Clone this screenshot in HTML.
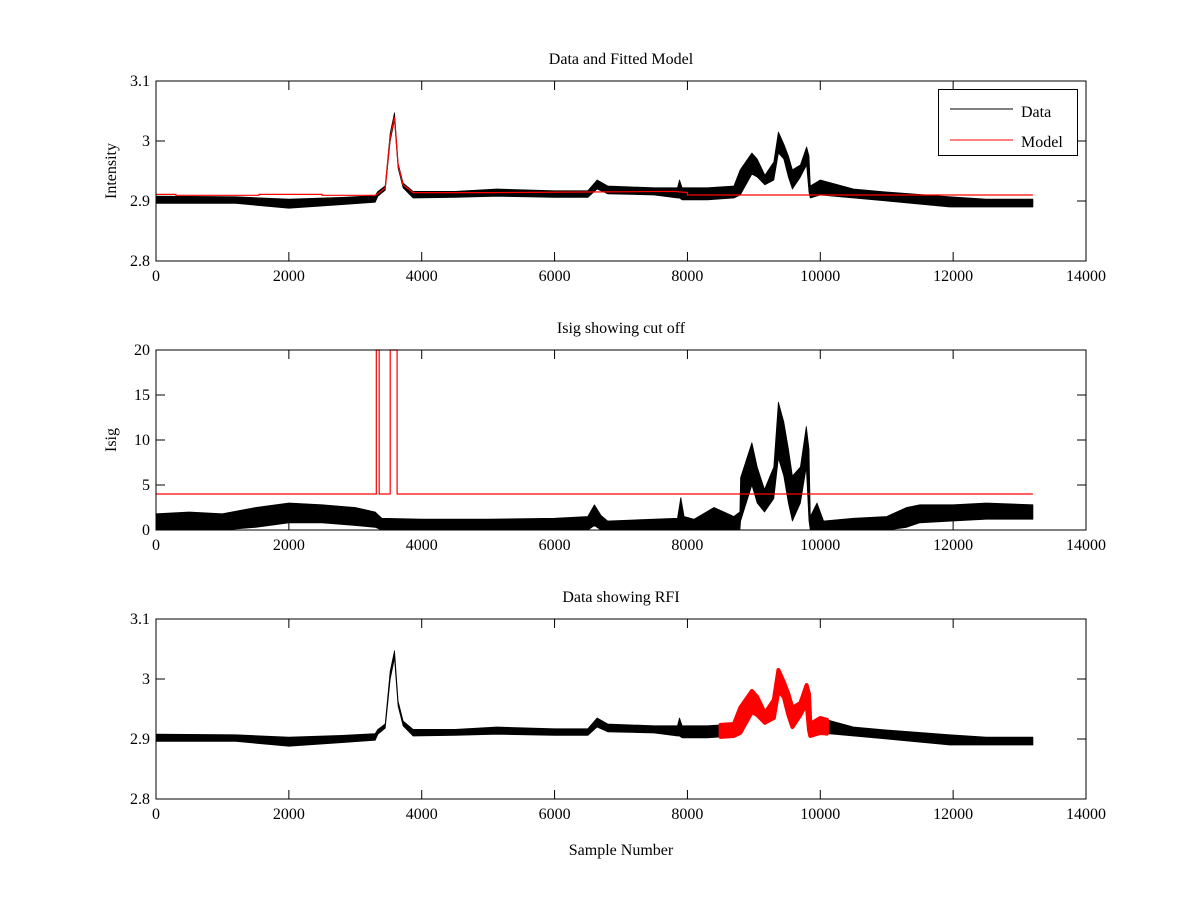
<!DOCTYPE html>
<html><head><meta charset="utf-8">
<style>
html,body{margin:0;padding:0;background:#fff;}
svg text{font-family:"Liberation Serif",serif;font-size:16px;fill:#000;}
</style></head>
<body>
<svg id="fig" width="1200" height="900" viewBox="0 0 1200 900"></svg>
<script>
// ---- data ----
const dataX = [0,1200,2000,2800,3300,3340,3450,3525,3590,3645,3720,3870,4500,5130,6000,6500,6640,6800,7500,7850,7880,7920,8300,8700,8794,8970,9050,9166,9300,9370,9450,9520,9580,9700,9794,9830,9850,10000,10500,11000,11950,12500,13200];
const dataHi = [2.908,2.907,2.903,2.906,2.909,2.916,2.925,3.013,3.047,2.963,2.93,2.916,2.916,2.92,2.917,2.917,2.935,2.925,2.922,2.922,2.935,2.922,2.922,2.925,2.952,2.98,2.97,2.943,2.965,3.015,2.995,2.975,2.952,2.96,2.99,2.975,2.925,2.935,2.92,2.915,2.907,2.903,2.903];
const dataLo = [2.896,2.896,2.888,2.894,2.898,2.908,2.918,3.0,3.035,2.955,2.922,2.905,2.906,2.908,2.906,2.906,2.92,2.912,2.91,2.905,2.905,2.902,2.902,2.905,2.91,2.945,2.94,2.927,2.935,2.98,2.97,2.94,2.92,2.94,2.96,2.915,2.905,2.91,2.905,2.9,2.89,2.89,2.89];
const modelX = [0,300,300,1550,1550,2500,2500,3300,3340,3450,3525,3590,3645,3720,3870,5000,6500,7800,8000,8000,13200];
const modelY = [2.911,2.911,2.9095,2.9095,2.911,2.911,2.9095,2.9095,2.912,2.922,3.006,3.04,2.96,2.927,2.914,2.914,2.915,2.916,2.914,2.91,2.91];
const isigX = [0,500,1000,1500,2000,2500,3000,3300,3400,4000,5000,6000,6500,6600,6700,6800,7500,7850,7900,7950,8100,8400,8700,8790,8800,8970,9050,9160,9300,9370,9450,9520,9580,9700,9790,9830,9850,9950,10050,10500,11000,11300,11500,12000,12500,13200];
const isigHi = [1.8,2,1.8,2.5,3,2.8,2.5,2,1.3,1.2,1.2,1.3,1.5,2.8,1.6,1,1.2,1.3,3.6,1.5,1.2,2.5,1.5,2,5.8,9.7,7,4.5,7,14.2,12,9,6,7,11.5,9,1.5,3,1,1.3,1.5,2.5,2.8,2.8,3,2.8];
const isigLo = [0,0,0,0.3,0.8,0.8,0.5,0.3,0,0,0,0,0,0.5,0,0,0,0,0,0,0,0,0,0,1,5,3,2,3.5,8,6,3,1,3,7,1,0,0,0,0,0,0.3,0.8,1,1.2,1.2];
const cutX = [0,3316,3316,3360,3360,3525,3525,3630,3630,13200];
const cutY = [4,4,20,20,4,4,20,20,4,4];
const rfiRange = [8500,10100];
const xTicks = [0,2000,4000,6000,8000,10000,12000,14000];
const intTicks = [2.8,2.9,3,3.1];
const intLabels = ["2.8","2.9","3","3.1"];
const isigTicks = [0,5,10,15,20];

const NS="http://www.w3.org/2000/svg";
const svg=document.getElementById('fig');
function el(tag,attrs,parent){const e=document.createElementNS(NS,tag);for(const k in attrs)e.setAttribute(k,attrs[k]);(parent||svg).appendChild(e);return e;}
const X0=156,X1=1086;
function sx(v){return X0+(v-0)/14000*(X1-X0);}

function interp(xs,ys,x){for(let i=0;i<xs.length-1;i++){if(x>=xs[i]&&x<=xs[i+1]){const t=xs[i+1]===xs[i]?0:(x-xs[i])/(xs[i+1]-xs[i]);return ys[i]+t*(ys[i+1]-ys[i]);}}return ys[ys.length-1];}

function band(xs,hi,lo,sy,color,name,parent,from,to){
  const pts=[];const back=[];
  const sel=[];
  sel.push(from);
  xs.forEach(x=>{if(x>from&&x<to)sel.push(x);});
  sel.push(to);
  sel.forEach(x=>{pts.push(sx(x).toFixed(1)+','+sy(interp(xs,hi,x)).toFixed(1));});
  sel.slice().reverse().forEach(x=>{back.push(sx(x).toFixed(1)+','+sy(interp(xs,lo,x)).toFixed(1));});
  const p=el('polygon',{points:pts.concat(back).join(' '),fill:color,stroke:color,'stroke-width':0.8,'stroke-linejoin':'round'},parent);
  
  
  return p;
}
function line(xs,ys,sy,color,name,parent,w){
  const pts=xs.map((x,i)=>sx(x).toFixed(1)+','+sy(ys[i]).toFixed(1)).join(' ');
  const p=el('polyline',{points:pts,fill:'none',stroke:color,'stroke-width':w||1},parent);
  
  
}
function axes(top,bot,ymin,ymax,yTicks,yLabels,title,ylabel,name){
  const g=el('g',{});
  
  
  const sy=v=>bot-(v-ymin)/(ymax-ymin)*(bot-top);
  return {g,sy,finish:function(){
    el('rect',{x:X0,y:top,width:X1-X0,height:bot-top,fill:'none',stroke:'#000','stroke-width':1},g);
    xTicks.forEach(t=>{const x=sx(t);
      el('line',{x1:x,x2:x,y1:bot,y2:bot-9,stroke:'#000'},g);
      el('line',{x1:x,x2:x,y1:top,y2:top+9,stroke:'#000'},g);
      const tx=el('text',{x:x,y:bot+20,'text-anchor':'middle'},g);tx.textContent=t;
      
      
    });
    yTicks.forEach((t,i)=>{const y=sy(t);
      el('line',{x1:X0,x2:X0+9,y1:y,y2:y,stroke:'#000'},g);
      el('line',{x1:X1,x2:X1-9,y1:y,y2:y,stroke:'#000'},g);
      const tx=el('text',{x:X0-6,y:y+5,'text-anchor':'end'},g);tx.textContent=yLabels[i];
      
      
    });
    const tt=el('text',{x:(X0+X1)/2,y:top-17,'text-anchor':'middle'},g);tt.textContent=title;
    
    
    const yl=el('text',{x:0,y:0,'text-anchor':'middle',transform:`translate(${X0-40},${(top+bot)/2}) rotate(-90)`},g);yl.textContent=ylabel;
    
    
  }};
}

// Panel 1
const a1=axes(81,261,2.8,3.1,intTicks,intLabels,'Data and Fitted Model','Intensity','panel-data-model');
band(dataX,dataHi,dataLo,a1.sy,'#000','data-series',a1.g,0,13200);
line(modelX,modelY,a1.sy,'#f00','model-series',a1.g,1.2);
a1.finish();
// legend
const lg=el('g',{});


el('rect',{x:938.5,y:89.5,width:139,height:66,fill:'#fff',stroke:'#000'},lg);
el('line',{x1:950,x2:1013,y1:109,y2:109,stroke:'#000'},lg);
el('line',{x1:950,x2:1013,y1:140,y2:140,stroke:'#f00'},lg);
const l1=el('text',{x:1021,y:117},lg);l1.textContent='Data';


const l2=el('text',{x:1021,y:147},lg);l2.textContent='Model';



// Panel 2
const a2=axes(350,530,0,20,isigTicks,isigTicks.map(String),'Isig showing cut off','Isig','panel-isig');
band(isigX,isigHi,isigLo,a2.sy,'#000','isig-series',a2.g,0,13200);
line(cutX,cutY,a2.sy,'#f00','cutoff-series',a2.g,1.2);
a2.finish();

// Panel 3
const a3=axes(619,799,2.8,3.1,intTicks,intLabels,'Data showing RFI','','panel-rfi');
band(dataX,dataHi,dataLo,a3.sy,'#000','data-series',a3.g,0,13200);
const r=band(dataX,dataHi,dataLo,a3.sy,'#f00','rfi-series',a3.g,rfiRange[0],rfiRange[1]);
r.setAttribute('stroke-width','4');
a3.finish();
const xl=el('text',{x:(X0+X1)/2,y:855,'text-anchor':'middle'});xl.textContent='Sample Number';


</script>
</body></html>
